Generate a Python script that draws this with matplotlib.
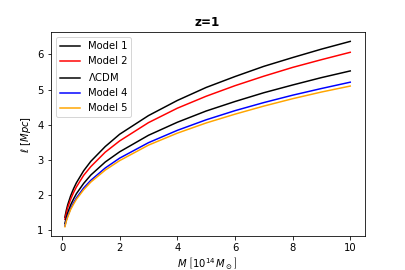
import numpy as np
import matplotlib.pyplot as plt

# масса, 10^14 M_sun
M = [0.1, 0.15, 0.2, 0.3, 0.4, 0.5, 0.75, 1, 1.5, 2, 3, 4, 5, 6, 7, 8, 9, 10]

# длина, Mpc
model1 = [1.37, 1.57, 1.73, 1.98, 2.18, 2.35, 2.69, 2.96, 3.38, 3.73, 4.26, 4.69, 5.06, 5.37, 5.66, 5.91, 6.15, 6.37]
model2 = [1.31, 1.49, 1.65, 1.88, 2.07, 2.23, 2.56, 2.81, 3.22, 3.54, 4.06, 4.47, 4.81, 5.11, 5.38, 5.63, 5.85, 6.06]
lcdm   = [1.19, 1.36, 1.50, 1.72, 1.89, 2.04, 2.33, 2.57, 2.94, 3.23, 3.70, 4.07, 4.39, 4.66, 4.91, 5.13, 5.34, 5.53]
model4 = [1.12, 1.29, 1.41, 1.62, 1.78, 1.92, 2.20, 2.42, 2.77, 3.05, 3.49, 3.84, 4.14, 4.40, 4.63, 4.84, 5.03, 5.21]
model5 = [1.10, 1.26, 1.38, 1.59, 1.74, 1.88, 2.15, 2.37, 2.71, 2.98, 3.42, 3.76, 4.05, 4.30, 4.53, 4.74, 4.93, 5.10]

fig = plt.figure(figsize=(5.625, 3.75), dpi=72)
ax = plt.gca()
plt.subplots_adjust(left=0.125, right=0.9, bottom=0.126, top=0.881)

ax.plot(M, model1, color='black', label='Model 1')
ax.plot(M, model2, color='red', label='Model 2')
ax.plot(M, lcdm, color='black', label=r'$\Lambda$CDM')
ax.plot(M, model4, color='blue', label='Model 4')
ax.plot(M, model5, color='orange', label='Model 5')

ax.set_title('z=1', fontweight='bold')
ax.set_xlabel(r'$M\ \left[10^{14}\,M_\odot\right]$', labelpad=2)
ax.set_ylabel(r'$\ell\ [Mpc]$')
ax.legend(loc='upper left')

plt.savefig('out.png', dpi=72)
